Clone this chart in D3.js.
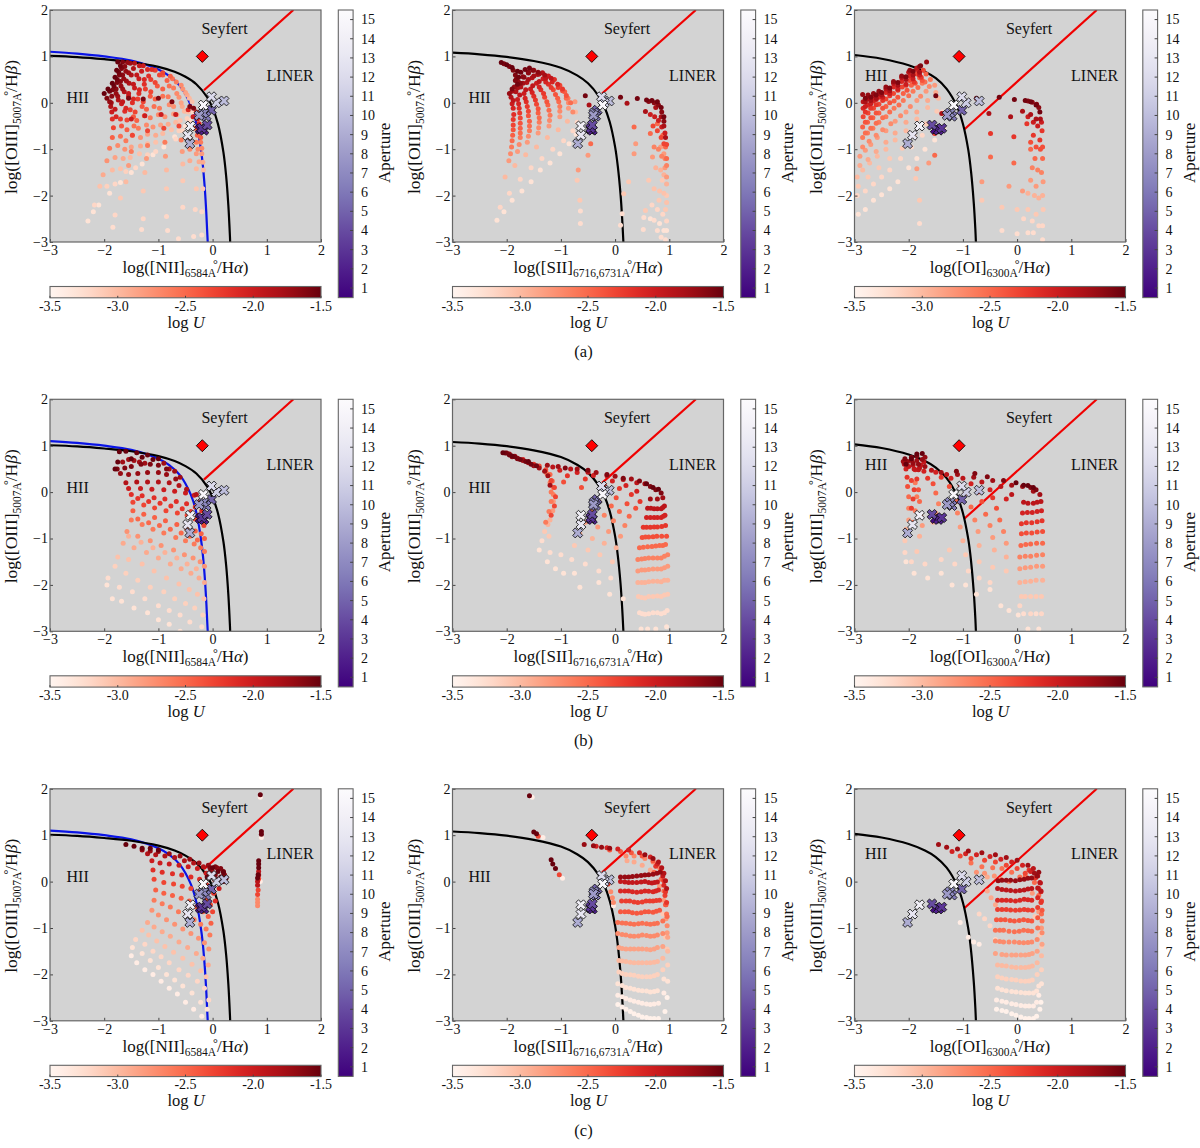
<!DOCTYPE html>
<html><head><meta charset="utf-8">
<script src="https://cdn.jsdelivr.net/npm/d3@7"></script>
<style>html,body{margin:0;background:#fff}text{font-family:"Liberation Serif",serif;fill:#111}</style>
</head><body><svg id="c" width="1200" height="1148"></svg>
<script>
const xTicks=[-3,-2,-1,0,1,2], yTicks=[-3,-2,-1,0,1,2];
const uTicks=[-3.5,-3,-2.5,-2,-1.5], apTicks=[1,2,3,4,5,6,7,8,9,10,11,12,13,14,15];
const rowCaptions=["(a)","(b)","(c)"];
const niiCurve=[[-3,1.01],[-2.5,.985],[-2,.94],[-1.5,.88],[-1,.775],[-.7,.67],[-.5,.56],[-.3,.4],[-.1,.12],[0,-.11],[.1,-.46],[.2,-1.07],[.25,-1.58],[.29,-2.2],[.32,-2.88],[.324,-3]];
const niiBlue=[[-3,1.1],[-2.5,1.06],[-2,1],[-1.5,.91],[-1,.72],[-.8,.58],[-.6,.36],[-.4,-.06],[-.3,-.44],[-.2,-1.14],[-.15,-1.75],[-.12,-2.29],[-.1,-2.77],[-.09,-3]];
const siiCurve=[[-3,1.08],[-2.5,1.045],[-2,.99],[-1.5,.9],[-1,.755],[-.7,.59],[-.5,.42],[-.3,.14],[-.2,-.08],[-.1,-.41],[0,-.95],[.05,-1.37],[.1,-1.97],[.13,-2.49],[.153,-3]];
const oiCurve=[[-3,1.03],[-2.5,.95],[-2,.81],[-1.7,.67],[-1.5,.53],[-1.3,.3],[-1.1,-.1],[-1,-.45],[-.9,-1.02],[-.85,-1.48],[-.8,-2.15],[-.77,-2.73],[-.76,-3]];
const niiRed=[[-.16,.27],[1.49,2]], siiRed=[[-.24,.2],[1.49,2]], oiRed=[[-.97,-.57],[1.47,2]];
const apertures=[1,2,3,4,5,6,7,8,9,10,11,12,13,14,15];
const obsY=[-.57,-.59,-.55,-.48,-.16,-.29,-.22,-.27,-.88,.04,0,.13,-.7,-.5,-.05];
const obsNii=[-.23,-.16,-.2,-.1,-.02,-.12,-.17,-.25,-.42,.21,.07,-.02,-.46,-.41,-.17];
const obsSii=[-.45,-.42,-.45,-.42,-.33,-.36,-.39,-.4,-.69,-.11,-.2,-.25,-.63,-.63,-.23];
const obsOi=[-1.51,-1.45,-1.39,-1.57,-1.02,-1.2,-1.24,-1.29,-2.02,-.7,-.94,-1.02,-1.93,-1.8,-1.17];
const seyfertPoint={nii:-.19,sii:-.43,oi:-1.07};

// every row: logU, then x,y pairs
const aNiiRows=[
[-3.3,-2.3,-2.55,-2.2,-2.35,-2.1,-2.2,-1.9,-1.95,-1.7,-1.72,-1.5,-1.5,-1.3,-1.32,-1.1,-1.12,-.9,-.95,-.7,-.73,-.5,-.5,-.43,-.38],
[-3.25,-1.84,-2.68,-1.31,-2.73,-.83,-2.75,-.63,-2.93,-.35,-2.88,-.2,-2.85],
[-3.2,-1.8,-2.42,-1.28,-2.5,-.85,-2.45,-.55,-2.25,-.32,-2.3,-.2,-2.35],
[-3.1,-1.7,-2.05,-1.28,-1.9,-.85,-1.85,-.55,-1.68,-.3,-1.85,-.18,-1.85],
[-3,-1.6,-1.7,-1.25,-1.5,-.85,-1.45,-.55,-1.32,-.3,-1.42,-.17,-1.45],
[-2.8,-1.55,-1.35,-1.22,-1.2,-.87,-1.15,-.56,-1.05,-.3,-1.1,-.2,-1.1],
[-2.6,-1.5,-1.05,-1.2,-.92,-.88,-.85,-.58,-.8,-.3,-.85,-.22,-.85],
[-2.3,-1.48,-.7,-1.2,-.6,-.9,-.55,-.62,-.5,-.32,-.55,-.25,-.6],
[-2,-1.5,-.35,-1.25,-.28,-.95,-.25,-.68,-.25,-.36,-.3,-.28,-.35],
[-1.6,-1.55,.1,-1.28,.08,-1,.1,-.75,.02,-.42,-.08,-.35,-.12],
[-3.2,-2.18,-2.2,-1.8,-1.75,-1.42,-1.4,-1.05,-1.05,-.68,-.78,-.55,-.6,-.41,-.42,-.36,-.2],
[-3.05,-2.08,-1.8,-1.7,-1.42,-1.35,-1.1,-1.05,-.85,-.76,-.58,-.6,-.38,-.45,-.2,-.38,.02],
[-2.9,-2.02,-1.55,-1.65,-1.2,-1.33,-.93,-1.05,-.7,-.82,-.46,-.66,-.26,-.56,-.08,-.47,.17],
[-2.75,-1.95,-1.25,-1.62,-1,-1.33,-.75,-1.1,-.52,-.88,-.3,-.72,-.08,-.62,.12,-.55,.3],
[-2.6,-1.9,-.98,-1.6,-.82,-1.37,-.55,-1.15,-.32,-.98,-.12,-.82,.13,-.72,.32,-.67,.45],
[-2.45,-1.85,-.75,-1.58,-.58,-1.4,-.38,-1.22,-.14,-1.06,.08,-.92,.3,-.84,.48,-.78,.57],
[-2.3,-1.83,-.54,-1.58,-.37,-1.43,-.2,-1.28,.02,-1.14,.24,-1.06,.44,-.98,.6,-.92,.65],
[-2.15,-1.85,-.35,-1.62,-.18,-1.48,0,-1.36,.2,-1.26,.4,-1.18,.58,-1.12,.72],
[-2,-1.86,-.2,-1.68,-.02,-1.55,.14,-1.44,.32,-1.36,.52,-1.31,.68,-1.28,.8],
[-1.85,-1.88,-.08,-1.74,.06,-1.63,.24,-1.54,.42,-1.5,.6,-1.46,.74,-1.44,.85],
[-1.7,-1.9,.02,-1.78,.2,-1.69,.36,-1.64,.52,-1.6,.68,-1.57,.87],
[-1.6,-1.95,.1,-1.84,.28,-1.76,.44,-1.72,.6,-1.68,.74,-1.66,.88],
[-1.5,-2,.2,-1.93,.3,-1.85,.42,-1.8,.55,-1.77,.7,-1.75,.88],
[-1.55,-1.9,.25,-1.82,.36,-1.76,.5,-1.73,.66,-1.7,.8],
[-1.65,-1.86,.14,-1.78,.3,-1.7,.46,-1.66,.6,-1.62,.78],
[-1.75,-1.87,0,-1.75,.14,-1.66,.3,-1.59,.47,-1.55,.65,-1.52,.85],
[-1.95,-1.8,-.14,-1.66,.02,-1.55,.2,-1.46,.4,-1.4,.6,-1.35,.8],
[-2.1,-1.78,-.3,-1.6,-.12,-1.46,.08,-1.35,.28,-1.26,.5,-1.2,.72],
[-2.25,-1.7,-.35,-1.52,-.15,-1.38,.08,-1.24,.3,-1.14,.5,-1.06,.7],
[-2.4,-1.68,-.5,-1.46,-.3,-1.3,-.08,-1.15,.14,-1.02,.36,-.92,.6],
[-2.55,-1.7,-.72,-1.45,-.5,-1.26,-.28,-1.08,-.08,-.92,.14,-.8,.36,-.74,.52],
[-2.7,-1.75,-.92,-1.48,-.7,-1.22,-.48,-1,-.26,-.8,-.04,-.66,.2,-.58,.38],
[-2.85,-1.8,-1.18,-1.5,-.95,-1.2,-.68,-.96,-.48,-.72,-.24,-.58,0,-.5,.22],
[-3,-1.85,-1.45,-1.52,-1.18,-1.2,-.88,-.92,-.66,-.68,-.42,-.52,-.18,-.43,.1],
[-3.15,-1.95,-1.8,-1.6,-1.48,-1.2,-1.12,-.88,-.85,-.62,-.6,-.47,-.34,-.38,-.1],
[-2.1,-.3,-.2,-.25,-.45,-.45,-.15],
[-2.45,-.28,-.7,-.22,-.75,-.42,-.75],
[-2.7,-.27,-1,-.2,-.98,-.42,-1],
[-2.9,-.25,-1.27,-.18,-1.28,-.42,-1.25]];
const aSiiRows=[
[-3.3,-2.18,-2.53,-2.05,-2.35,-1.9,-2.1,-1.72,-1.9,-1.55,-1.7,-1.38,-1.45,-1.2,-1.3,-1.02,-1.1,-.85,-.88,-.72,-.68],
[-3.2,-2.12,-2.25,-1.95,-1.95,-1.75,-1.65,-1.55,-1.4,-1.35,-1.2,-1.15,-1,-.95,-.82,-.78,-.6,-.7,-.42],
[-3,-2.03,-1.6,-1.85,-1.35,-1.65,-1.12,-1.45,-.95,-1.25,-.75,-1.05,-.58,-.88,-.4,-.73,-.2],
[-2.8,-1.96,-1.25,-1.8,-1.05,-1.62,-.85,-1.42,-.65,-1.22,-.5,-1.02,-.3,-.86,-.12,-.74,.02],
[-2.6,-1.91,-.95,-1.75,-.75,-1.58,-.6,-1.4,-.42,-1.2,-.27,-1.02,-.08,-.87,.1],
[-2.45,-1.89,-.7,-1.75,-.55,-1.58,-.4,-1.42,-.22,-1.24,-.05,-1.06,.1,-.93,.24],
[-2.3,-1.88,-.48,-1.75,-.33,-1.6,-.18,-1.45,-.03,-1.3,.12,-1.14,.28,-1.02,.38],
[-2.15,-1.87,-.25,-1.77,-.12,-1.64,.02,-1.5,.14,-1.37,.28,-1.23,.4,-1.12,.5],
[-2,-1.9,-.02,-1.8,.07,-1.68,.2,-1.56,.3,-1.45,.42,-1.33,.52,-1.23,.58],
[-1.85,-1.92,.12,-1.83,.24,-1.74,.34,-1.63,.44,-1.53,.54,-1.43,.61,-1.34,.65],
[-1.7,-1.95,.2,-1.86,.34,-1.79,.46,-1.7,.56,-1.6,.64,-1.5,.7],
[-1.55,-1.8,.4,-1.78,.55,-1.74,.66,-1.66,.72,-1.58,.75],
[-1.5,-2.1,.87,-2,.82,-1.9,.76,-1.8,.68],
[-1.6,-2.05,.84,-1.95,.78,-1.88,.7,-1.84,.6,-1.84,.48,-1.9,.3],
[-1.65,-1.82,.52,-1.75,.42,-1.68,.55,-1.6,.66,-1.52,.7,-1.42,.66],
[-1.78,-1.9,.25,-1.8,.32,-1.7,.42,-1.6,.5,-1.5,.58,-1.4,.62,-1.3,.6],
[-1.92,-1.88,.05,-1.76,.17,-1.65,.28,-1.52,.37,-1.4,.46,-1.28,.53,-1.18,.53],
[-2.07,-1.88,-.12,-1.78,-.02,-1.66,.1,-1.53,.22,-1.4,.34,-1.28,.45,-1.16,.45,-1.06,.4],
[-2.22,-1.88,-.36,-1.76,-.22,-1.62,-.08,-1.47,.06,-1.32,.2,-1.18,.33,-1.05,.33,-.97,.3],
[-2.38,-1.88,-.58,-1.75,-.44,-1.6,-.28,-1.42,-.13,-1.26,.02,-1.1,.18,-.97,.26,-.9,.16],
[-2.52,-1.9,-.82,-1.75,-.65,-1.58,-.5,-1.4,-.32,-1.22,-.16,-1.04,.02,-.9,.1,-.82,0],
[-2.7,-1.93,-1.1,-1.77,-.9,-1.6,-.72,-1.41,-.54,-1.21,-.38,-1.02,-.18,-.86,0,-.78,-.2],
[-3.25,-.64,-2.6,-.64,-2.33,.1,-2.64,.13,-2.39,.52,-2.73,.53,-2.47,.72,-2.53,.78,-2.75,.85,-2.9,.93,-2.95],
[-3.1,-.65,-2.1,-.7,-1.67,.16,-1.96,.25,-1.7,.56,-2.32,.62,-1.67,.81,-2.1,.87,-1.67,.93,-2.3,.95,-2],
[-2.8,-.68,-1.45,-.5,-1.13,.35,-1.1,.38,-.88,.69,-1.17,.84,-.95,.92,-1.4,.95,-1.6,.9,-1.1],
[-2.5,-.45,-.88,.35,-.52,.65,-.66,.78,-.45,.88,-.7,.93,-.95,.95,-1.2],
[-1.8,-.42,-.23,-.48,-.05,.22,-.01,.56,-.19,.75,-.1,.85,-.3,.9,-.5,.93,-.75],
[-1.55,-.55,.15,.1,.12,.41,.09,.58,.06,.68,.05,.78,.02,.85,-.1,.9,-.3],
[-1.65,.62,.03,.72,0,.8,-.05,.86,-.2,.9,-.4],
[-2,.65,-.25,.73,-.3,.8,-.38,.86,-.52,.92,-.65],
[-2.3,.7,-.5,.78,-.6,.85,-.75,.9,-.88,.95,-.9],
[-2.65,.72,-.95,.8,-1,.86,-1.15,.92,-1.2,.95,-1.35],
[-2.95,.75,-1.4,.84,-1.45,.9,-1.55,.95,-1.75],
[-3.05,.72,-1.85,.82,-1.9,.9,-1.95,.95,-2.15],
[-3.2,.68,-2.2,.78,-2.3,.88,-2.4,.95,-2.55],
[-3.3,.65,-2.5,.82,-2.6,.9,-2.75,.95,-2.75]];
const aOiRows=[
[-3.3,-2.93,-2.4,-2.8,-2.3,-2.65,-2.1,-2.5,-1.98,-2.35,-1.85,-2.2,-1.7,-2,-1.4,-1.85,-1.2,-1.7,-1,-1.52,-.8,-1.35,-.55],
[-3.2,-2.95,-2,-2.8,-1.9,-2.65,-1.75,-2.5,-1.6,-2.35,-1.45,-2.15,-1.2,-1.95,-.95,-1.75,-.7,-1.55,-.45,-1.38,-.2],
[-3,-2.95,-1.6,-2.85,-1.45,-2.72,-1.3,-2.58,-1.15,-2.42,-1,-2.25,-.8,-2.05,-.6,-1.85,-.35,-1.65,-.1,-1.45,.1],
[-2.8,-2.9,-1.15,-2.8,-1.02,-2.7,-.9,-2.58,-.75,-2.42,-.6,-2.25,-.4,-2.05,-.2,-1.85,.05,-1.68,.25,-1.52,.38],
[-2.6,-2.85,-.75,-2.76,-.65,-2.66,-.55,-2.55,-.42,-2.42,-.3,-2.27,-.12,-2.1,.05,-1.92,.25,-1.75,.42,-1.6,.5],
[-2.45,-2.85,-.52,-2.76,-.42,-2.66,-.32,-2.55,-.22,-2.42,-.08,-2.27,.04,-2.1,.2,-1.95,.38,-1.8,.54,-1.68,.62],
[-2.3,-2.84,-.3,-2.75,-.22,-2.65,-.12,-2.55,-.03,-2.42,.08,-2.28,.2,-2.12,.34,-1.98,.48,-1.85,.62,-1.73,.7],
[-2.1,-2.84,-.12,-2.75,-.05,-2.65,.04,-2.55,.12,-2.42,.22,-2.28,.34,-2.13,.46,-1.98,.58,-1.85,.72],
[-1.9,-2.84,.02,-2.75,.08,-2.65,.14,-2.55,.2,-2.42,.3,-2.28,.42,-2.13,.54,-2,.66,-1.85,.75],
[-1.7,-2.85,.18,-2.75,.17,-2.65,.2,-2.55,.25,-2.42,.34,-2.28,.46,-2.13,.58,-1.98,.7,-1.8,.78,-1.67,.88],
[-1.6,-2.8,.1,-2.7,.12,-2.6,.17,-2.5,.22,-2.35,.32,-2.2,.44,-2.05,.56,-1.92,.68,-1.78,.8],
[-1.8,-2.8,.02,-2.7,.05,-2.6,.1,-2.5,.17,-2.35,.26,-2.2,.38,-2.05,.5,-1.92,.6,-1.8,.66],
[-2,-2.8,-.08,-2.7,-.02,-2.6,.07,-2.48,.12,-2.35,.2,-2.2,.3,-2.05,.4,-1.92,.52,-1.8,.6],
[-2.2,-2.8,-.2,-2.7,-.12,-2.6,-.04,-2.48,.05,-2.35,.15,-2.2,.27,-2.05,.38,-1.9,.45,-1.77,.55],
[-2.38,-2.8,-.42,-2.7,-.32,-2.6,-.22,-2.48,-.12,-2.35,0,-2.2,.12,-2.03,.27,-1.88,.42,-1.75,.48],
[-2.53,-2.8,-.65,-2.7,-.55,-2.6,-.44,-2.48,-.32,-2.35,-.2,-2.18,-.05,-2,.15,-1.83,.33,-1.7,.45],
[-2.7,-2.85,-.95,-2.73,-.83,-2.6,-.7,-2.48,-.58,-2.33,-.45,-2.15,-.28,-1.97,-.08,-1.78,.14,-1.62,.35],
[-2.9,-2.9,-1.35,-2.75,-1.22,-2.6,-1.05,-2.42,-.85,-2.25,-.65,-2.05,-.42,-1.85,-.2,-1.65,.05,-1.5,.22],
[-3.1,-2.93,-1.8,-2.75,-1.6,-2.55,-1.4,-2.35,-1.2,-2.12,-.98,-1.9,-.72,-1.68,-.45,-1.48,-.18],
[-3.25,-1.8,-2.6,-.28,-2.75,0,-2.82,.2,-2.8,.3,-2.8,.47,-2.95],
[-3.1,-1.8,-2.1,-1.87,-1.63,-.65,-2.1,-.28,-2.25,0,-2.3,.2,-2.3,.35,-2.4,.48,-2.3],
[-2.8,-1.85,-1.42,-1.63,-1.3,-.65,-1.7,-.15,-1.8,.1,-1.9,.25,-1.67,.35,-1.8,.48,-1.7],
[-2.5,-1.52,-1.13,-.49,-1.17,-.06,-1.3,.25,-1,.33,-1.2,.47,-1.2],
[-2.2,-1.52,-.66,-.49,-.66,-.06,-.73,.18,-.45,.3,-.7,.42,-.8,.46,-.6],
[-1.8,-1.39,-.23,-.52,-.23,-.12,-.3,.1,-.18,.25,-.25,.35,-.35,.43,-.35],
[-1.55,-1.5,.15,-.75,.1,-.33,.12,-.05,.07,.15,.05,.25,.02,.35,-.05,.42,-.2],
[-1.65,.2,.04,.28,.01,.36,-.03,.4,-.1],
[-2,.2,-.3,.3,-.42,.38,-.5,.45,-.42],
[-2.35,.25,-.85,.35,-.95,.43,-1,.47,-.95],
[-2.65,.28,-1.4,.38,-1.45,.45,-1.5],
[-2.95,.2,-1.95,.32,-2,.4,-2.05,.47,-2],
[-3.2,.12,-2.5,.28,-2.55,.4,-2.65,.47,-2.65]];
const bNiiRows=[
[-3.3,-1.95,-2,-1.85,-2.3,-1.68,-2.35,-1.45,-2.5,-1.2,-2.6,-1,-2.75,-.8,-2.85,-.6,-3],
[-3.25,-1.93,-1.85,-1.72,-2.05,-1.48,-2.15,-1.25,-2.3,-1,-2.45,-.8,-2.55,-.6,-2.65,-.42,-2.8,-.2,-2.9],
[-3.15,-1.8,-1.6,-1.6,-1.75,-1.38,-1.9,-1.15,-2.05,-.9,-2.15,-.7,-2.3,-.5,-2.4,-.33,-2.5,-.18,-2.65],
[-3.05,-1.75,-1.4,-1.55,-1.45,-1.3,-1.55,-1.08,-1.7,-.85,-1.85,-.62,-1.98,-.43,-2.1,-.28,-2.2,-.16,-2.3],
[-2.9,-1.65,-1.1,-1.45,-1.2,-1.22,-1.3,-1,-1.42,-.78,-1.55,-.58,-1.65,-.4,-1.75,-.25,-1.85,-.15,-1.95],
[-2.75,-1.58,-.85,-1.38,-.95,-1.15,-1.05,-.95,-1.15,-.72,-1.25,-.52,-1.35,-.36,-1.42,-.23,-1.5,-.15,-1.6],
[-2.6,-1.5,-.6,-1.3,-.7,-1.1,-.8,-.9,-.88,-.68,-.98,-.5,-1.05,-.34,-1.12,-.22,-1.2,-.15,-1.28],
[-2.45,-1.47,-.4,-1.27,-.48,-1.07,-.55,-.87,-.62,-.66,-.7,-.48,-.78,-.32,-.84,-.21,-.9,-.15,-1],
[-2.3,-1.47,-.22,-1.27,-.28,-1.07,-.34,-.86,-.4,-.65,-.45,-.47,-.5,-.32,-.58,-.2,-.64,-.16,-.72],
[-2.15,-1.5,-.05,-1.3,-.08,-1.08,-.12,-.88,-.15,-.67,-.2,-.48,-.25,-.32,-.32,-.2,-.4],
[-2,-1.55,.08,-1.33,.08,-1.12,.06,-.9,.05,-.7,.02,-.5,-.02,-.34,-.07,-.22,-.18],
[-1.85,-1.6,.2,-1.4,.22,-1.2,.22,-1,.22,-.8,.2,-.62,.14,-.48,.06,-.3,-.05],
[-1.7,-1.7,.4,-1.55,.38,-1.38,.4,-1.2,.42,-1,.42,-.85,.38,-.68,.28],
[-1.6,-1.76,.5,-1.62,.52,-1.5,.55,-1.32,.6,-1.15,.6,-1,.58,-.85,.5],
[-1.5,-1.8,.5,-1.75,.65,-1.72,.87,-1.6,.88,-1.5,.72,-1.4,.85,-1.3,.75,-1.2,.8,-1.1,.7,-1,.72],
[-1.75,-1.66,.65,-1.55,.7,-1.45,.68,-1.35,.65,-1.25,.62,-.9,.62,-.8,.5,-.7,.45,-.6,.32],
[-2.95,-1.55,-.95,-1.32,-1.08,-1.1,-1.2,-.88,-1.3,-.66,-1.42,-.47,-1.55,-.3,-1.65],
[-2.5,-1.38,-.58,-1.18,-.66,-.98,-.72,-.78,-.8,-.58,-.88,-.42,-.95,-.28,-1.03],
[-2.2,-1.38,-.14,-1.18,-.2,-.97,-.24,-.77,-.3,-.56,-.36,-.4,-.42,-.26,-.5]];
const bSiiRows=[
[-3.3,-1.4,-1.25,-1.25,-1.5,-1.1,-1.65,-.95,-1.75,-.75,-1.75,-.65,-2.05,-.3,-1.95,-.1,-2.2,.15,-2.3,.48,-2.95,.6,-2.95,.75,-2.95,.95,-2.9],
[-3.25,-1.35,-1.05,-1.2,-1.3,-1,-1.35,-.8,-1.45,-.55,-1.55,-.3,-1.7,-.08,-1.85,.45,-2.6,.55,-2.63,.7,-2.6,.85,-2.62,.96,-2.55],
[-3.1,-1.3,-.85,-1.22,-.95,-.75,-1.15,-.5,-1.25,-.28,-1.35,-.05,-1.5,.43,-2.25,.55,-2.28,.7,-2.25,.85,-2.25,.97,-2.2],
[-2.95,-1.24,-.7,-1.2,-.6,-.65,-.9,-.42,-1,-.2,-1.1,.02,-1.2,.42,-1.95,.55,-1.95,.7,-1.92,.85,-1.93,.97,-1.9],
[-2.8,-1.15,-.4,-1.14,-.2,-.55,-.65,-.32,-.75,-.12,-.85,.1,-.95,.42,-1.7,.55,-1.68,.7,-1.66,.85,-1.66,.97,-1.6],
[-2.65,-1.14,-.05,-1.14,.1,-.42,-.4,-.2,-.5,-.03,-.62,.18,-.72,.42,-1.45,.55,-1.43,.7,-1.42,.85,-1.42,.97,-1.35],
[-2.5,-1.16,.24,-1.2,.38,-.3,-.2,-.07,-.3,.08,-.42,.26,-.52,.45,-1.2,.6,-1.18,.75,-1.16,.88,-1.15],
[-2.35,-1.28,.48,-1.4,.56,-.95,.22,-.62,.1,.02,-.12,.22,-.25,.38,-.35,.5,-.98,.62,-.97,.77,-.95,.95,-.95],
[-2.2,-1.5,.6,-.88,.35,-.55,.28,-.2,.16,.08,.08,.3,-.05,.46,-.2,.52,-.76,.65,-.76,.78,-.75,.93,-.72],
[-2.05,-1.7,.7,-1.02,.47,-.7,.42,-.4,.36,-.05,.24,.2,.14,.4,.02,.58,-.55,.72,-.55,.85,-.55,.92,-.5],
[-1.9,-1.85,.77,-1.15,.54,-.82,.5,-.5,.43,-.15,.35,.15,.27,.4,.2,.6,-.35,.72,-.36,.85,-.36,.91,-.3],
[-1.75,-1.95,.82,-1.25,.58,-1.05,.55,-.7,.5,-.35,.42,0,.34,.3,.28,.55,.18,.65,-.15,.78,-.15,.88,-.12],
[-1.6,-2,.84,-1.8,.72,-.92,.52,-.5,.47,-.15,.38,.15,.3,.45,.24,.65,.12,.75,.05,.85,-.02],
[-1.5,-2.07,.85,-1.9,.78,-1.6,.66,.58,.18,.7,.1,.8,.06],
[-1.55,-2.03,.84,-1.95,.8,-1.85,.76,-1.75,.7,-1.65,.66,-1.55,.6,-1.45,.57],
[-1.75,-1.9,.76,-1.8,.73,-1.7,.68,-1.6,.63,-1.5,.57,-1.4,.52,-1.3,.45,-1.24,.35,-1.2,.15],
[-2.3,-1.18,.25,-1.12,.1,-1.1,-.1,-1.12,-.3,-1.18,-.5],
[-2.6,-1.26,.4,-1.2,.2,-1.18,0,-1.18,-.2,-1.22,-.42,-1.28,-.65],
[-3.25,.5,-2.62,.62,-2.62,.78,-2.6,.91,-2.6],
[-3.1,.49,-2.27,.62,-2.25,.78,-2.24,.91,-2.22],
[-2.95,.49,-1.95,.62,-1.93,.78,-1.92,.91,-1.9],
[-2.8,.49,-1.68,.62,-1.67,.78,-1.66,.91,-1.63],
[-2.65,.49,-1.44,.62,-1.42,.78,-1.42,.91,-1.38],
[-2.5,.52,-1.19,.68,-1.17,.82,-1.15,.93,-1.13],
[-2.35,.56,-.97,.7,-.96,.86,-.95],
[-2.2,.58,-.76,.72,-.75,.86,-.74],
[-2.05,.65,-.55,.78,-.55,.89,-.52],
[-1.9,.66,-.35,.78,-.36,.88,-.33]];
const bOiRows=[
[-3.3,-2.05,-1.5,-1.9,-1.75,-1.65,-1.85,-1.4,-1.75,-1.2,-2,-.95,-2,-.75,-2.2,-.5,-2.1,-.3,-2.45,-.15,-2.55,.02,-2.65,.2,-2.95,.4,-2.95],
[-3.2,-2.07,-1.3,-1.95,-1.5,-1.7,-1.55,-1.4,-1.45,-1.15,-1.55,-.9,-1.7,-.7,-1.85,-.5,-1.95,.05,-2.45,.25,-2.62,.45,-2.62],
[-3.1,-2.07,-1.05,-1.85,-1.28,-1.25,-1.25,-.95,-1.35,-.7,-1.5,-.45,-1.62,-.2,-1.7,.08,-2.25,.25,-2.25,.45,-2.25],
[-2.95,-2.05,-.8,-1.8,-.95,-1.55,-.65,-1,-1.05,-.7,-1.15,-.42,-1.25,-.2,-1.4,.05,-1.95,.25,-1.92,.47,-1.9],
[-2.8,-2,-.6,-1.75,-.72,-1.5,-.45,-1.05,-.75,-.72,-.85,-.45,-.98,-.2,-1.1,.05,-1.65,.25,-1.62,.47,-1.6],
[-2.65,-2,-.35,-1.78,-.5,-1.45,-.25,-1.1,-.45,-.78,-.6,-.5,-.72,-.25,-.85,.05,-1.4,.25,-1.38,.47,-1.35],
[-2.5,-2,-.1,-1.8,-.2,-1.5,-.02,-1.12,-.2,-.85,-.32,-.58,-.48,-.32,-.6,.07,-1.15,.25,-1.12,.47,-1.1],
[-2.35,-2.02,.12,-1.82,.05,-1.55,.18,-1.25,.12,-.95,-.02,-.65,-.2,-.38,-.35,.08,-.9,.27,-.88,.47,-.85],
[-2.2,-2.03,.32,-1.85,.28,-1.65,.3,-1.4,.32,-1.05,.15,-.72,0,-.45,-.12,.08,-.68,.27,-.66,.46,-.62],
[-2.05,-2.05,.5,-1.88,.48,-1.72,.45,-1.5,.43,-1.22,.3,-.85,.18,-.5,.05,-.2,-.15,.1,-.45,.28,-.44,.45,-.4],
[-1.9,-2.08,.6,-1.92,.58,-1.8,.52,-1.58,.47,-1.3,.38,-1,.3,-.65,.22,-.3,.12,-.1,-.05,.12,-.22,.3,-.24,.44,-.2],
[-1.75,-2.1,.66,-1.95,.68,-1.85,.68,-1.7,.55,-1.4,.42,-1.1,.38,-.8,.32,-.45,.25,-.1,.15,.1,.12,.3,.02,.42,-.05],
[-1.6,-2.07,.72,-1.95,.75,-1.85,.78,-1.12,.45,-.78,.4,-.55,.33,-.25,.25,.25,.1,.35,.05],
[-1.5,-2.05,.6,-1.95,.72,-1.85,.82,-1.75,.83,-.02,.2,.12,.15,.2,.14,.3,.1],
[-1.7,-2.02,.66,-1.92,.62,-1.82,.6,-1.75,.7,-1.7,.75],
[-1.95,-2,.55,-1.9,.5,-1.82,.48,-1.78,.58,-1.72,.65],
[-2.25,-1.95,.25,-1.9,.05,-1.92,-.15,-1.95,-.35],
[-2.6,-1.88,.2,-1.85,-.1,-1.88,-.4,-1.92,-.65],
[-3.25,.12,-2.62,.35,-2.62],
[-3.1,.15,-2.25,.35,-2.25],
[-2.95,.15,-1.93,.35,-1.9],
[-2.8,.15,-1.63,.36,-1.6],
[-2.65,.15,-1.38,.36,-1.36],
[-2.5,.16,-1.13,.36,-1.1],
[-2.35,.17,-.88,.37,-.86],
[-2.2,.17,-.66,.37,-.64],
[-2.05,.19,-.44,.37,-.42],
[-1.9,.2,-.24,.37,-.22]];
const cNiiRows=[
[-3.4,-1.5,-1.6,-1.4,-1.75,-1.25,-1.9,-1.1,-2,-.95,-2.15,-.8,-2.3,-.65,-2.42,-.5,-2.6,-.35,-2.75,-.2,-2.9],
[-3.3,-1.48,-1.42,-1.3,-1.55,-1.15,-1.7,-1,-1.85,-.85,-2,-.7,-2.12,-.55,-2.25,-.38,-2.4,-.22,-2.6,-.1,-2.75],
[-3.2,-1.42,-1.25,-1.25,-1.35,-1.1,-1.5,-.95,-1.62,-.8,-1.75,-.62,-1.9,-.45,-2.02,-.28,-2.15,-.15,-2.3,-.07,-2.55],
[-3.05,-1.3,-1.05,-1.18,-1.15,-1.03,-1.28,-.88,-1.4,-.72,-1.52,-.55,-1.65,-.38,-1.78,-.22,-1.92,-.12,-2.05],
[-2.9,-1.2,-.88,-1.08,-.98,-.93,-1.08,-.78,-1.18,-.62,-1.3,-.46,-1.42,-.3,-1.55,-.18,-1.65,-.08,-1.8],
[-2.75,-1.12,-.62,-1,-.72,-.85,-.82,-.7,-.92,-.55,-1.02,-.4,-1.12,-.26,-1.22,-.15,-1.32,-.07,-1.45],
[-2.6,-1.08,-.4,-.93,-.48,-.78,-.55,-.63,-.65,-.48,-.72,-.34,-.82,-.22,-.92,-.12,-1.02,-.05,-1.15],
[-2.45,-1.05,-.18,-.9,-.25,-.74,-.3,-.58,-.36,-.43,-.42,-.3,-.55,-.18,-.65,-.08,-.75,-.03,-.9],
[-2.3,-1.08,.05,-.9,-.02,-.72,-.05,-.56,-.1,-.4,-.15,-.25,-.22,-.12,-.38,-.04,-.5,0,-.65],
[-2.15,-1.1,.25,-.93,.2,-.74,.17,-.57,.14,-.4,.1,-.24,.05,-.1,-.08,.02,-.25,.05,-.42],
[-2,-1.12,.45,-.97,.4,-.8,.38,-.62,.35,-.45,.32,-.28,.28,-.12,.18,.04,.04,.12,-.15],
[-1.85,-1.2,.6,-1.05,.58,-.88,.55,-.7,.52,-.52,.45,-.35,.4,-.17,.32,0,.2,.15,.02],
[-1.7,-1.3,.68,-1.15,.66,-1,.65,-.8,.6,-.6,.55,-.42,.48,-.25,.4,-.08,.35,.08,.3,.22,.15],
[-1.5,-1.6,.8,-1.45,.76,-1.3,.72,-1.15,.72,-1,.68,0,.3,.1,.22,.2,.2,.25,.08,-.1,.1,0,.1,.1,.05,.2,0],
[-1.5,.88,1.87,.9,1.08,.9,1.02,.85,.45,.85,.38,.85,.3,.84,.15,.83,.08],
[-1.9,.85,.22,.85,.14,.83,0,.83,-.08],
[-2.3,.85,.06,.84,-.18,.83,-.28],
[-2.7,.83,-.38,.83,-.45,.83,-.52],
[-3.4,.88,1.82,.9,.95,.88,0],
[-1.6,-.05,.2,.05,.15,.15,.1,.2,.12,-.05,.3,.05,.32,.15,.28,.2,.22]];
const cSiiRows=[
[-3.45,.05,-2.65,.2,-2.75,.35,-2.85,.5,-2.92,.65,-2.95,.8,-2.95,.92,-2.8,.96,-2.5,.13,-2.7,.28,-2.8,.43,-2.88,.58,-2.93,.72,-2.95],
[-3.4,.05,-2.45,.2,-2.52,.35,-2.58,.5,-2.62,.65,-2.65,.8,-2.62,.9,-2.4,.13,-2.48,.28,-2.55,.43,-2.6,.58,-2.64,.72,-2.64],
[-3.3,.05,-2.2,.2,-2.28,.35,-2.32,.5,-2.35,.65,-2.38,.78,-2.35,.9,-2.1,.97,-2.15,.13,-2.24,.28,-2.3,.43,-2.34,.58,-2.36,.72,-2.37],
[-3.15,.07,-1.95,.2,-2,.35,-2.02,.5,-2.05,.65,-2.05,.78,-2,.88,-1.9,.97,-1.8,.13,-1.98,.28,-2.01,.43,-2.04,.58,-2.05,.72,-2.03],
[-3,.07,-1.7,.2,-1.72,.35,-1.75,.5,-1.75,.65,-1.75,.78,-1.72,.88,-1.65,.97,-1.5,.13,-1.71,.28,-1.74,.43,-1.75,.58,-1.75,.72,-1.74],
[-2.85,.07,-1.42,.2,-1.45,.35,-1.45,.5,-1.45,.65,-1.47,.78,-1.42,.88,-1.4,.97,-1.2,.13,-1.44,.28,-1.45,.43,-1.45,.58,-1.46,.72,-1.45],
[-2.7,.05,-1.12,.2,-1.15,.35,-1.18,.5,-1.15,.65,-1.18,.78,-1.15,.88,-1.12,.96,-.95,.13,-1.14,.28,-1.17,.43,-1.17,.58,-1.16,.72,-1.17],
[-2.55,.05,-.88,.2,-.9,.35,-.92,.5,-.9,.65,-.92,.78,-.9,.88,-.85,.95,-.7,.13,-.89,.28,-.91,.43,-.91,.58,-.91,.72,-.91],
[-2.4,.1,-.65,.25,-.65,.4,-.68,.55,-.65,.7,-.66,.82,-.62,.93,-.5,.18,-.65,.32,-.67,.48,-.67,.62,-.65,.76,-.64],
[-2.25,.12,-.42,.27,-.42,.42,-.45,.57,-.42,.7,-.42,.82,-.4,.92,-.3,.2,-.42,.35,-.44,.5,-.44,.64,-.42,.76,-.41],
[-2.1,.1,-.2,.25,-.2,.4,-.23,.55,-.2,.7,-.22,.8,-.18,.9,-.08,.18,-.2,.32,-.22,.48,-.22,.62,-.21,.75,-.2],
[-1.95,.1,0,.25,-.02,.4,-.02,.55,0,.68,-.03,.78,-.01,.88,.12,.18,-.01,.32,-.02,.48,-.01,.62,-.02,.73,-.02],
[-1.7,.1,.1,.25,.1,.4,.12,.55,.14,.7,.16,.83,.2,.18,.1,.32,.11,.48,.13,.62,.15,.77,.18],
[-2.9,.22,.45,.35,.42,.5,.35,.65,.25],
[-2.7,.2,.55,.35,.55,.55,.5,.7,.42,.82,.3],
[-2.4,-.1,.68,.1,.65,.3,.62,.5,.55,.7,.45,.85,.28],
[-2.05,-.35,.76,-.15,.73,.05,.7,.25,.68,.45,.62,.65,.53,.78,.38],
[-1.7,-.57,.8,-.4,.77,-.25,.74,-.1,.72,.55,.58,.7,.5],
[-1.85,.8,.42,.86,.3,.9,.18,.93,.02,.95,-.15],
[-2.2,.75,.33,.84,.22,.9,.02,.93,-.22,.95,-.45],
[-2.5,.72,.2,.85,.05,.9,-.2,.94,-.5,.96,-.75],
[-2.8,.82,-.1,.9,-.4,.94,-.8,.96,-1.1],
[-3.1,.88,-.7,.93,-1.2,.96,-1.45],
[-1.5,-1.58,1.85,-1.5,1.07,-1.45,1.03,-1.18,.47,-1.15,.38,-1.1,.28],
[-2.3,-1.03,.15,-1.42,.98,-.18,.07,-.13,-.05],
[-2.7,-.08,-.22,-.05,-.35,-.03,-.45],
[-3.4,-1.53,1.82,-1.33,.95,-.97,.07,-.03,-.52]];
const cOiRows=[
[-3.45,-.38,-2.75,-.2,-2.8,-.02,-2.88,.15,-2.95,.3,-2.95,.42,-2.75,.44,-2.6,-.28,-2.78,-.1,-2.85,.07,-2.92,.22,-2.95,.36,-2.9],
[-3.4,-.38,-2.55,-.2,-2.6,-.02,-2.65,.15,-2.68,.3,-2.68,.4,-2.45,-.28,-2.58,-.1,-2.63,.07,-2.67,.22,-2.68,.36,-2.6],
[-3.3,-.36,-2.3,-.2,-2.35,-.02,-2.38,.15,-2.4,.3,-2.4,.4,-2.25,.45,-2.2,-.28,-2.33,-.1,-2.37,.07,-2.39,.22,-2.4,.36,-2.36],
[-3.15,-.36,-2.05,-.2,-2.1,-.02,-2.12,.15,-2.15,.28,-2.12,.37,-2,.45,-1.9,-.28,-2.08,-.1,-2.11,.07,-2.14,.22,-2.14],
[-3,-.36,-1.8,-.2,-1.82,-.02,-1.85,.15,-1.85,.28,-1.82,.37,-1.75,.45,-1.6,-.28,-1.81,-.1,-1.84,.07,-1.85,.22,-1.84],
[-2.85,-.4,-1.55,-.2,-1.58,-.02,-1.58,.15,-1.58,.28,-1.55,.37,-1.5,.46,-1.35,-.28,-1.57,-.1,-1.58,.07,-1.58,.22,-1.57],
[-2.7,-.4,-1.28,-.25,-1.3,-.05,-1.3,.12,-1.32,.27,-1.3,.37,-1.25,.46,-1.1,-.32,-1.29,-.15,-1.3,.04,-1.31,.2,-1.31],
[-2.55,-.4,-1.05,-.25,-1.05,-.05,-1.08,.12,-1.05,.27,-1.07,.38,-1,.46,-.85,-.32,-1.05,-.15,-1.07,.04,-1.07,.2,-1.06],
[-2.4,-.38,-.82,-.22,-.82,-.05,-.85,.12,-.82,.27,-.85,.38,-.78,.46,-.62,-.3,-.82,-.13,-.84,.04,-.84,.2,-.84],
[-2.25,-.36,-.6,-.2,-.6,-.03,-.62,.13,-.6,.28,-.62,.38,-.56,.45,-.42,-.28,-.6,-.12,-.61,.05,-.61,.2,-.61],
[-2.1,-.36,-.4,-.2,-.4,-.03,-.42,.13,-.38,.27,-.4,.38,-.35,.44,-.22,-.28,-.4,-.12,-.41,.05,-.4,.2,-.39],
[-1.9,-.36,-.15,-.2,-.18,-.03,-.2,.13,-.18,.27,-.15,.38,-.14,.43,-.03,-.28,-.17,-.12,-.19,.05,-.19,.2,-.16],
[-1.7,-.35,.02,-.2,.03,-.03,.02,.13,.05,.27,.08,.37,.12,.4,.2,-.28,.03,-.12,.03,.05,.04,.2,.07],
[-3.4,-.9,-1.2,-.8,-1.3,-.7,-1.35,-1.05,-.88],
[-3.2,-.7,-.7,-.6,-.8,-.5,-.95,-.4,-1.25],
[-2.9,-.55,-.2,-.48,-.35,-.4,-.5,-.55,.1],
[-2.75,-.75,.2,-.6,.18,-.42,.12,-.3,.05,-.15,0],
[-2.55,-.85,.4,-.65,.32,-.45,.3,-.28,.28,-.1,.2,.05,.1],
[-2.3,-1.05,.55,-.85,.5,-.6,.46,-.4,.42,-.2,.35,0,.28,.15,.18],
[-2.05,-1.2,.65,-.95,.6,-.75,.58,-.5,.54,-.3,.48,-.1,.42,.1,.35,.25,.22],
[-1.75,-1.45,.8,-1.3,.74,-1.1,.7,-.9,.66,-.65,.62,-.4,.58,-.2,.52,0,.46,.2,.35,.32,.18],
[-1.9,.3,.28,.38,.12,.42,-.02,.44,-.2],
[-2.2,.22,.25,.34,.08,.4,-.15,.44,-.45],
[-2.5,.15,.12,.32,-.02,.4,-.3,.45,-.7],
[-2.8,.28,-.25,.4,-.65,.45,-1],
[-3.1,.33,-.75,.42,-1.15,.45,-1.4]];

const panels=[
 [{rows:aNiiRows,k:"nii"},{rows:aSiiRows,k:"sii"},{rows:aOiRows,k:"oi"}],
 [{rows:bNiiRows,k:"nii"},{rows:bSiiRows,k:"sii"},{rows:bOiRows,k:"oi"}],
 [{rows:cNiiRows,k:"nii"},{rows:cSiiRows,k:"sii"},{rows:cOiRows,k:"oi"}]];
const kinds={
 nii:{left:50,curve:niiCurve,red:niiRed,obs:obsNii,sub:"6584A",name:"[NII]",hiiX:-2.49,hiiY:.11,blue:niiBlue},
 sii:{left:452.5,curve:siiCurve,red:siiRed,obs:obsSii,sub:"6716,6731A",name:"[SII]",hiiX:-2.5,hiiY:.11},
 oi:{left:854.5,curve:oiCurve,red:oiRed,obs:obsOi,sub:"6300A",name:"[OI]",hiiX:-2.6,hiiY:.6}};
const tops=[10,399.3,788.8];
const W=271,H=232;
const redCol=t=>d3.interpolateReds(t), purp=t=>d3.interpolatePurples(t);
const uScale=d3.scaleLinear([-3.5,-1.5],[0,1]);
const apScale=d3.scaleLinear([.5,15.5],[1,0]);
const svg=d3.select("#c");
const defs=svg.append("defs");
const g1=defs.append("linearGradient").attr("id","gu");
d3.range(0,1.001,.05).forEach(t=>g1.append("stop").attr("offset",t).attr("stop-color",redCol(t)));
const g2=defs.append("linearGradient").attr("id","ga").attr("x1",0).attr("x2",0).attr("y1",1).attr("y2",0);
d3.range(0,1.001,.05).forEach(t=>g2.append("stop").attr("offset",t).attr("stop-color",purp(1-t)));
const fmt=d=>String(d).replace("-","\u2212");
const line=(x,y)=>d3.line().x(d=>x(d[0])).y(d=>y(d[1]));
panels.forEach((row,ri)=>{
 row.forEach((p,ci)=>{
  const k=kinds[p.k], L=k.left, T=tops[ri];
  const g=svg.append("g").attr("transform",`translate(${L},${T})`);
  const x=d3.scaleLinear([-3,2],[0,W]), y=d3.scaleLinear([-3,2],[H,0]);
  const id=`cp${ri}${ci}`;
  defs.append("clipPath").attr("id",id).append("rect").attr("width",W).attr("height",H);
  g.append("rect").attr("width",W).attr("height",H).attr("fill","#d3d3d3");
  const plot=g.append("g").attr("clip-path",`url(#${id})`);
  const cur=line(x,y).curve(d3.curveCatmullRom);
  plot.append("path").attr("d",line(x,y)(k.red)).attr("fill","none").attr("stroke","#f00000").attr("stroke-width",2.2);
  if(k.blue) plot.append("path").attr("d",cur(k.blue)).attr("fill","none").attr("stroke","#0a14e6").attr("stroke-width",2.2);
  plot.append("path").attr("d",cur(k.curve)).attr("fill","none").attr("stroke","#000").attr("stroke-width",2.2);
  const pts=[];
  p.rows.forEach(r=>{for(let i=1;i<r.length;i+=2)pts.push({u:r[0],x:r[i],y:r[i+1]});});
  pts.sort((a,b)=>a.u-b.u);
  plot.selectAll("circle").data(pts).join("circle")
    .attr("cx",d=>x(d.x)).attr("cy",d=>y(d.y)).attr("r",2.5)
    .attr("fill",d=>redCol(uScale(d.u)));
  const ax=g.append("g").attr("transform",`translate(0,${H})`).call(d3.axisBottom(x).tickValues(xTicks).tickFormat(fmt).tickSize(-3).tickPadding(3));
  const ay=g.append("g").call(d3.axisLeft(y).tickValues(yTicks).tickFormat(fmt).tickSize(-3).tickPadding(2));
  [ax,ay].forEach(a=>{a.select(".domain").remove();a.selectAll("text").attr("font-size",14).attr("font-family","Liberation Serif").attr("fill","#111");a.selectAll("line").attr("stroke","#444");});
  g.append("rect").attr("width",W).attr("height",H).attr("fill","none").attr("stroke","#666").attr("stroke-width",1.2);
  g.append("path").attr("d",d3.symbol(d3.symbolSquare,72)()).attr("transform",`translate(${x(seyfertPoint[p.k])},${y(1)}) rotate(45)`).attr("fill","#f00").attr("stroke","#000").attr("stroke-width",.8);
  apertures.forEach((ap,i)=>{
    g.append("path").attr("d",d3.symbol(d3.symbolCross,62)()).attr("transform",`translate(${x(k.obs[i])},${y(obsY[i])}) rotate(45)`).attr("fill",purp(apScale(ap))).attr("stroke","#111").attr("stroke-width",.8);
  });
  const lab=(t,a,b)=>g.append("text").attr("x",x(a)).attr("y",y(b)).attr("dy",".35em").attr("text-anchor","middle").attr("font-size",16).attr("fill","#222").text(t);
  lab("Seyfert",.22,1.6);lab("LINER",1.43,.6);lab("HII",k.hiiX,k.hiiY);
  const xl=g.append("text").attr("x",W/2).attr("y",263).attr("text-anchor","middle").attr("font-size",17);
  xl.append("tspan").text("log("+k.name);
  xl.append("tspan").attr("font-size",11.5).attr("dy",4).text(k.sub);
  xl.append("tspan").attr("font-size",12).attr("dy",-9).attr("dx",-3).text("\u00b0");
  xl.append("tspan").attr("dy",5).attr("dx",-1).text("/H");
  xl.append("tspan").attr("font-style","italic").text("\u03b1");
  xl.append("tspan").text(")");
  const yl=g.append("text").attr("transform",`translate(-33,${H/2+1}) rotate(-90)`).attr("text-anchor","middle").attr("font-size",17.5);
  yl.append("tspan").text("log([OIII]");
  yl.append("tspan").attr("font-size",11.5).attr("dy",4).text("5007A");
  yl.append("tspan").attr("font-size",12).attr("dy",-9).attr("dx",-3).text("\u00b0");
  yl.append("tspan").attr("dy",5).attr("dx",-1).text("/H");
  yl.append("tspan").attr("font-style","italic").text("\u03b2");
  yl.append("tspan").text(")");
  const cbT=276.5, cbH=11.3;
  const cb=g.append("g").attr("transform",`translate(0,${cbT})`);
  cb.append("rect").attr("width",W).attr("height",cbH).attr("fill","url(#gu)").attr("stroke","#666").attr("stroke-width",1.1);
  const ux=d3.scaleLinear([-3.5,-1.5],[0,W]);
  uTicks.forEach(t=>{
    cb.append("line").attr("x1",ux(t)).attr("x2",ux(t)).attr("y1",cbH-2).attr("y2",cbH).attr("stroke","#444");
    cb.append("text").attr("x",ux(t)).attr("y",24).attr("text-anchor","middle").attr("font-size",14).text(t.toFixed(1));
  });
  const ul=cb.append("text").attr("x",W/2+.5).attr("y",41).attr("text-anchor","middle").attr("font-size",16.5);
  ul.append("tspan").text("log ");ul.append("tspan").attr("font-style","italic").text("U");
  const vb=g.append("g").attr("transform",`translate(${W+17.3},0)`);
  const vH=287.6, vW=14.8;
  vb.append("rect").attr("width",vW).attr("height",vH).attr("fill","url(#ga)").attr("stroke","#666").attr("stroke-width",1.1);
  const vy=d3.scaleLinear([.5,15.5],[vH,0]);
  apTicks.forEach(t=>{
    vb.append("line").attr("x1",vW-3).attr("x2",vW).attr("y1",vy(t)).attr("y2",vy(t)).attr("stroke","#444");
    vb.append("text").attr("x",vW+8).attr("y",vy(t)).attr("dy",".35em").attr("font-size",14).text(t);
  });
  vb.append("text").attr("transform",`translate(${vW+31},${vH/2-1}) rotate(-90)`).attr("text-anchor","middle").attr("dy",".35em").attr("font-size",17).text("Aperture");
 });
 svg.append("text").attr("x",583.5).attr("y",tops[ri]+347).attr("text-anchor","middle").attr("font-size",16.5).text(rowCaptions[ri]);
});
</script></body></html>
